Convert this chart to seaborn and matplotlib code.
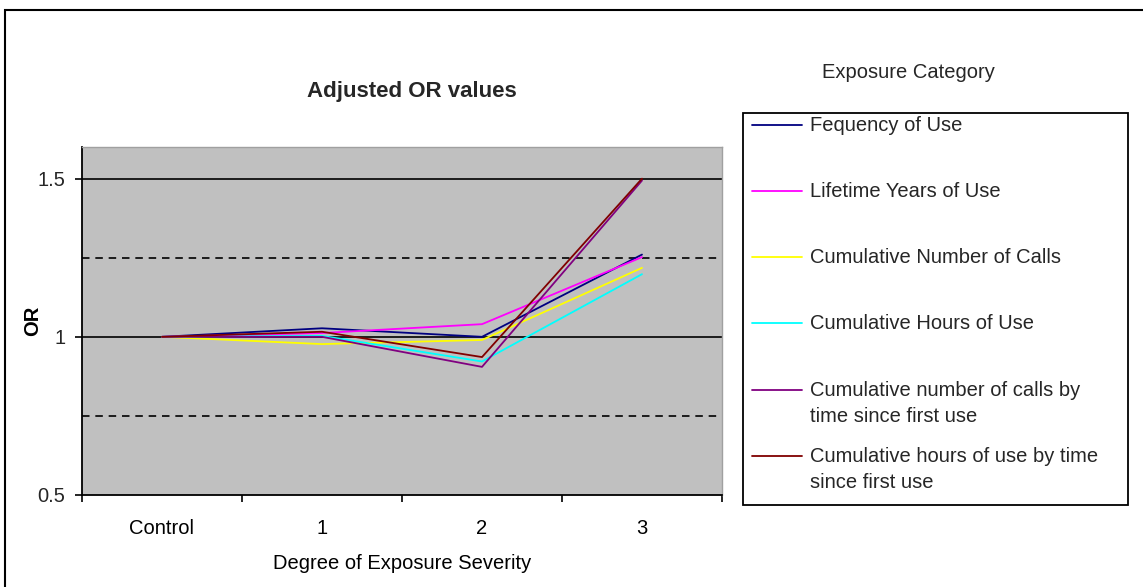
import pandas as pd
import numpy as np
import matplotlib
matplotlib.use('Agg')
import matplotlib.pyplot as plt
import seaborn as sns
from matplotlib.lines import Line2D
from matplotlib.patches import Rectangle
from matplotlib.ticker import FixedLocator

# data
categories = ['Control', '1', '2', '3']
series_names = [
    'Fequency of Use',
    'Lifetime Years of Use',
    'Cumulative Number of Calls',
    'Cumulative Hours of Use',
    'Cumulative number of calls by\ntime since first use',
    'Cumulative hours of use by time\nsince first use',
]
freq_use      = [1.0, 1.027, 1.000, 1.260]
lifetime_yrs  = [1.0, 1.012, 1.040, 1.252]
cum_calls     = [1.0, 0.977, 0.990, 1.218]
cum_hours     = [1.0, 1.003, 0.922, 1.198]
cum_calls_tsf = [1.0, 1.000, 0.905, 1.494]
cum_hours_tsf = [1.0, 1.016, 0.936, 1.500]
colors = ['#000080', '#FF00FF', '#FFFF00', '#00FFFF', '#800080', '#800000']

values = [freq_use, lifetime_yrs, cum_calls, cum_hours, cum_calls_tsf, cum_hours_tsf]
df = pd.DataFrame([
    {'Degree': c, 'OR': v, 'Series': name}
    for name, vals in zip(series_names, values)
    for c, v in zip(categories, vals)
])

sns.set_theme(style='white')
plt.rcParams['font.family'] = ['Liberation Sans', 'DejaVu Sans']

W, H = 1143, 587
fig = plt.figure(figsize=(W / 100, H / 100), dpi=100)
fig.patch.set_facecolor('white')

def fx(px):
    return px / W

def fy(py):
    return 1 - py / H

ax = fig.add_axes([fx(82), fy(495), fx(722) - fx(82), fy(147) - fy(495)])
ax.set_facecolor('#C0C0C0')

# horizontal grid: solid on majors, dashed between
for yv in [1.0, 1.5]:
    ax.axhline(yv, color='black', lw=1.2, zorder=1)
for yv in [0.75, 1.25]:
    ax.axhline(yv, color='black', lw=1.2, ls=(0, (4.5, 3.5)), zorder=1)

sns.lineplot(data=df, x='Degree', y='OR', hue='Series', hue_order=series_names,
             palette=colors, sort=False, lw=1.3, legend=False, ax=ax, zorder=3)

ax.set_xlim(-0.5, 3.5)
ax.set_ylim(0.5, 1.6)
ax.set_yticks([0.5, 1.0, 1.5])
ax.set_yticklabels(['0.5', '1', '1.5'])
ax.set_xticks(range(4))
ax.set_xticklabels(categories)
ax.xaxis.set_minor_locator(FixedLocator([-0.5, 0.5, 1.5, 2.5, 3.5]))
ax.tick_params(axis='x', which='major', length=0, pad=17, labelsize=14.5, colors='black')
ax.tick_params(axis='x', which='minor', length=5, width=1.2, direction='out',
               color='black', bottom=True)
ax.tick_params(axis='y', which='major', length=5, width=1.2, direction='out',
               color='black', left=True, labelsize=14.5, pad=7)

for side in ['bottom', 'left']:
    ax.spines[side].set_color('black')
    ax.spines[side].set_linewidth(1.3)
for side in ['top', 'right']:
    ax.spines[side].set_color('#A0A0A0')
    ax.spines[side].set_linewidth(1.0)

ax.set_xlabel('Degree of Exposure Severity', fontsize=14.5, labelpad=12, color='black')
ax.set_ylabel('OR', fontsize=14.5, fontweight='bold', color='black')
ax.yaxis.set_label_coords(-0.062, 0.5)

fig.text(fx(412), fy(91), 'Adjusted OR values', ha='center', va='center',
         fontsize=16, fontweight='bold')

# legend, laid out like the spreadsheet one
fig.text(fx(908), fy(73), 'Exposure Category', ha='center', va='center', fontsize=14.5)
fig.patches.append(Rectangle((fx(743), fy(505)), fx(1128) - fx(743), fy(113) - fy(505),
                             transform=fig.transFigure, fill=False, ec='black', lw=1.3))
entry_y = [125, 191, 257, 323, 390, 456]
for name, col, py in zip(series_names, colors, entry_y):
    fig.lines.append(Line2D([fx(752), fx(802)], [fy(py), fy(py)], color=col, lw=1.3,
                            transform=fig.transFigure))
    fig.text(fx(810), fy(py - 9), name, ha='left', va='top', fontsize=14.5,
             linespacing=1.5)

# outer chart frame
fig.patches.append(Rectangle((fx(5), -0.05), 1.2, fy(10) + 0.05,
                             transform=fig.transFigure, fill=False, ec='black', lw=1.5))

fig.savefig('out.png', dpi=100)
